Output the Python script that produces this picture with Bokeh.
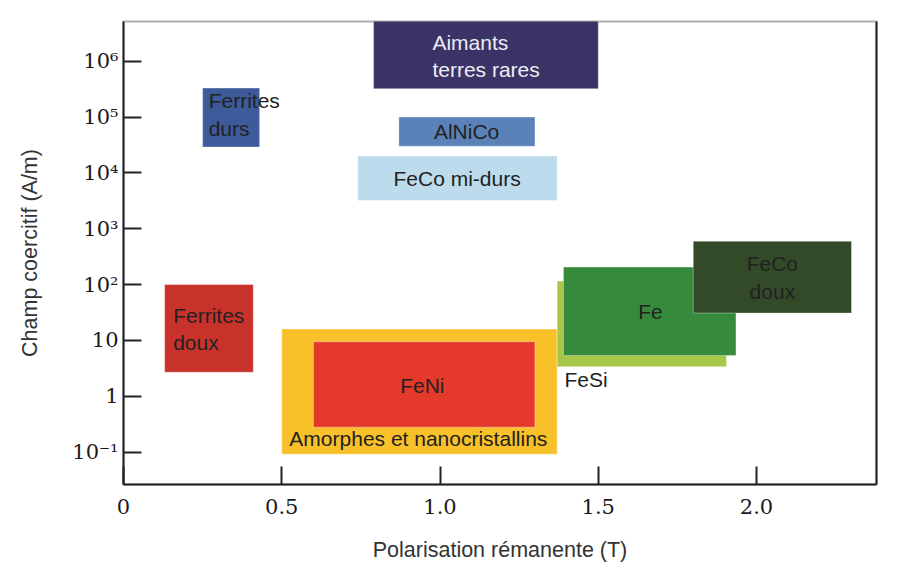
from bokeh.plotting import figure
from bokeh.models import FixedTicker, LogAxis, Range1d, ColumnDataSource
from bokeh.core.properties import value
from bokeh.embed import file_html
from bokeh.resources import INLINE

# ---- data ----
materials = ["Amorphes et nanocristallins", "FeNi", "Ferrites doux", "FeSi", "Fe",
             "FeCo doux", "FeCo mi-durs", "AlNiCo", "Ferrites durs", "Aimants terres rares"]
polar_min = [0.50, 0.60, 0.13, 1.37, 1.39, 1.80, 0.74, 0.87, 0.25, 0.79]   # T
polar_max = [1.37, 1.30, 0.41, 1.905, 1.935, 2.30, 1.37, 1.30, 0.43, 1.50]  # T
hc_min = [0.092, 0.28, 2.7, 3.4, 5.4, 31, 3.2e3, 3.0e4, 2.9e4, 3.2e5]       # A/m
hc_max = [16, 9.5, 100, 116, 206, 600, 2.0e4, 1.0e5, 3.3e5, 1.0e7]          # A/m
colors = ["#f8c12a", "#e4392b", "#c8322b", "#a6c74a", "#368a3c",
          "#334a28", "#bcdcee", "#5a82b8", "#3d5a9a", "#3b3366"]

x_ticks = [0, 0.5, 1.0, 1.5, 2.0]
x_tick_labels = ["0", "0.5", "1.0", "1.5", "2.0"]
y_ticks = [0.1, 1, 10, 100, 1000, 10000, 100000, 1000000]
y_tick_labels = ["10\u207b\u00b9", "1", "10", "10\u00b2", "10\u00b3", "10\u2074", "10\u2075", "10\u2076"]

# labels: text, anchor x, anchor y, alignment, colour
lab_text = ["Aimants\nterres rares", "Ferrites\ndurs", "AlNiCo", "FeCo mi-durs",
            "Ferrites\ndoux", "FeNi", "Amorphes et nanocristallins", "Fe", "FeCo\ndoux", "FeSi"]
lab_x = [0.976, 0.269, 1.084, 1.054, 0.157, 0.944, 0.524, 1.665, 2.050, 1.393]
lab_y = [10**6.094, 10**5.041, 10**4.742, 10**3.893, 10**1.204, 10**0.198, 10**-0.755,
         10**1.510, 10**2.127, 10**0.306]
lab_align = ["left", "left", "center", "center", "left", "center", "left", "center", "center", "left"]
lab_color = ["#ececf4", "#222222", "#222222", "#222222", "#222222", "#222222", "#222222",
             "#222222", "#222222", "#222222"]

p = figure(frame_width=753, frame_height=463, y_axis_type="log",
           x_range=Range1d(0, 2.379), y_range=Range1d(10**-1.578, 10**6.71),
           output_backend="svg", toolbar_location=None,
           min_border_left=123, min_border_top=21, min_border_right=28, min_border_bottom=92)

src = ColumnDataSource(dict(left=polar_min, right=polar_max, bottom=hc_min, top=hc_max, color=colors))
p.quad(left="left", right="right", bottom="bottom", top="top", fill_color="color",
       line_color="white", line_alpha=0.35, line_width=1, source=src)

lsrc = ColumnDataSource(dict(x=lab_x, y=lab_y, text=lab_text, align=lab_align, color=lab_color))
p.text(x="x", y="y", text="text", text_align="align", text_color="color", source=lsrc,
       text_baseline="middle", text_font=value("Liberation Sans"), text_font_size="21px",
       text_line_height=1.2)

p.grid.visible = False
p.outline_line_color = "#b0b0b0"
p.outline_line_width = 2

for ax in (p.xaxis[0], p.yaxis[0]):
    ax.axis_line_color = "#222222"
    ax.axis_line_width = 2
    ax.major_tick_line_color = "#222222"
    ax.major_tick_line_width = 2
    ax.major_tick_in = 18
    ax.major_tick_out = 0
    ax.minor_tick_line_color = None
    ax.major_label_text_font = "DejaVu Serif"
    ax.major_label_text_font_size = "21px"
    ax.major_label_text_color = "#1a1a1a"
    ax.axis_label_text_font = "Liberation Sans"
    ax.axis_label_text_font_style = "normal"
    ax.axis_label_text_font_size = "21.5px"
    ax.axis_label_text_color = "#333333"

p.xaxis.ticker = FixedTicker(ticks=x_ticks)
p.xaxis.major_label_overrides = dict(zip(x_ticks, x_tick_labels))
p.xaxis.axis_label = "Polarisation rémanente (T)"
p.xaxis.major_label_standoff = 14
p.xaxis.axis_label_standoff = 21

p.yaxis.ticker = FixedTicker(ticks=y_ticks)
p.yaxis.major_label_overrides = dict(zip(y_ticks, y_tick_labels))
p.yaxis.axis_label = "Champ coercitif (A/m)"
p.yaxis.major_label_standoff = 5
p.yaxis.axis_label_standoff = 27

right_axis = LogAxis(ticker=FixedTicker(ticks=[]), axis_line_color="#222222", axis_line_width=2,
                     major_tick_line_color=None, minor_tick_line_color=None)
p.add_layout(right_axis, "right")

open("out.html", "w").write(file_html(p, INLINE))
